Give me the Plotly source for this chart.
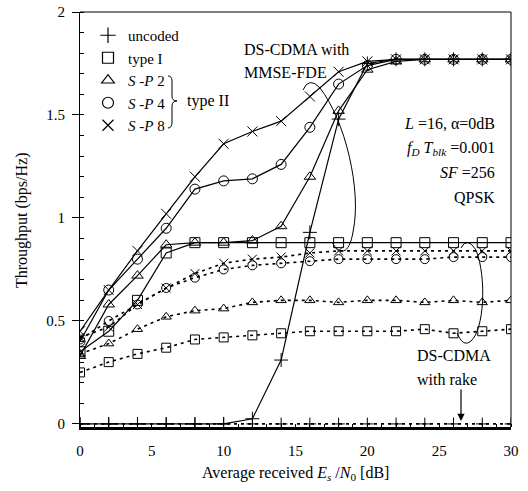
import plotly.graph_objects as go

snr = [0, 2, 4, 6, 8, 10, 12, 14, 16, 18, 20, 22, 24, 26, 28, 30]

uncoded_fde = [0.0, 0.0, 0.0, 0.0, 0.0, 0.0, 0.025, 0.31, 0.93, 1.48, 1.75, 1.77, 1.77, 1.77, 1.77, 1.77]
uncoded_rake = [0.0, 0.0, 0.0, 0.0, 0.0, 0.0, 0.0, 0.0, 0.0, 0.0, 0.0, 0.0, 0.0, 0.0, 0.0, 0.0]

type1_fde = [0.35, 0.45, 0.60, 0.83, 0.88, 0.88, 0.88, 0.88, 0.88, 0.88, 0.88, 0.88, 0.88, 0.88, 0.88, 0.88]
type1_rake = [0.25, 0.30, 0.34, 0.37, 0.41, 0.42, 0.43, 0.44, 0.45, 0.45, 0.45, 0.45, 0.46, 0.44, 0.45, 0.46]

sp2_fde = [0.33, 0.58, 0.72, 0.87, 0.88, 0.88, 0.89, 0.96, 1.20, 1.52, 1.72, 1.76, 1.77, 1.77, 1.77, 1.77]
sp2_rake = [0.34, 0.39, 0.46, 0.52, 0.55, 0.56, 0.59, 0.60, 0.60, 0.59, 0.60, 0.60, 0.59, 0.60, 0.59, 0.60]

sp4_fde = [0.40, 0.65, 0.80, 0.95, 1.14, 1.18, 1.19, 1.26, 1.44, 1.65, 1.74, 1.77, 1.77, 1.77, 1.77, 1.77]
sp4_rake = [0.41, 0.50, 0.58, 0.66, 0.71, 0.75, 0.77, 0.78, 0.79, 0.80, 0.80, 0.80, 0.80, 0.81, 0.81, 0.81]

sp8_fde = [0.45, 0.65, 0.84, 1.02, 1.20, 1.36, 1.42, 1.47, 1.59, 1.71, 1.76, 1.77, 1.77, 1.77, 1.77, 1.77]
sp8_rake = [0.42, 0.47, 0.58, 0.66, 0.73, 0.78, 0.80, 0.81, 0.83, 0.84, 0.84, 0.84, 0.84, 0.84, 0.84, 0.84]

legend_names = ["uncoded", "type I", "<i>S</i> -<i>P</i> 2", "<i>S</i> -<i>P</i> 4", "<i>S</i> -<i>P</i> 8"]
symbols = ["cross-thin-open", "square-open", "triangle-up-open", "circle-open", "x-thin-open"]
fde_series = [uncoded_fde, type1_fde, sp2_fde, sp4_fde, sp8_fde]
rake_series = [uncoded_rake, type1_rake, sp2_rake, sp4_rake, sp8_rake]

FONT = "Liberation Serif"
W, H = 528, 491
L, R, T, B = 80, 17, 12, 64
X0, X1 = 0, 30
Y0, Y1 = -0.015, 2.0
PW, PH = W - L - R, H - T - B


def px2x(px):
    return X0 + (px - L) / PW * (X1 - X0)


def py2y(py):
    return Y1 - (py - T) / PH * (Y1 - Y0)


def px2p(px):
    return (px - L) / PW


def py2p(py):
    return 1 - (py - T) / PH


fig = go.Figure()

for ys, sym in zip(rake_series, symbols):
    fig.add_trace(go.Scatter(
        x=snr, y=ys, mode="lines+markers", showlegend=False,
        line=dict(color="black", width=1.6, dash="3px,4px"),
        marker=dict(symbol=sym, size=9, color="black", line=dict(width=1, color="black")),
    ))

for ys, sym in zip(fde_series, symbols):
    fig.add_trace(go.Scatter(
        x=snr, y=ys, mode="lines+markers", showlegend=False,
        line=dict(color="black", width=1.2),
        marker=dict(symbol=sym, size=10, color="black", line=dict(width=1, color="black")),
    ))

for name, sym in zip(legend_names, symbols):
    fig.add_trace(go.Scatter(
        x=[None], y=[None], mode="markers", name=name,
        marker=dict(symbol=sym, size=11, color="black", line=dict(width=1.2, color="black")),
    ))


def P(px, py):
    return f"{px2x(px):.4f},{py2y(py):.4f}"


shapes = [
    dict(type="line", xref="paper", yref="paper", x0=0, x1=1, y0=1, y1=1, line=dict(color="black", width=1)),
    dict(type="line", xref="paper", yref="paper", x0=1, x1=1, y0=0, y1=1, line=dict(color="black", width=1)),
    dict(type="path", xref="x", yref="y", line=dict(color="black", width=1),
         path=f"M {P(303, 90)} Q {P(309, 76)} {P(320, 88)} C {P(345, 120)} {P(362, 190)} {P(353, 232)} "
              f"C {P(349, 256)} {P(339, 255)} {P(332, 242)}"),
    dict(type="path", xref="x", yref="y", line=dict(color="black", width=1),
         path=f"M {P(461, 248)} Q {P(467, 236)} {P(476, 250)} C {P(487, 278)} {P(484, 330)} {P(471, 341)} "
              f"C {P(465, 346)} {P(461, 342)} {P(457, 333)}"),
    dict(type="path", xref="x", yref="y", line=dict(color="black", width=1),
         path=f"M {P(168, 76)} Q {P(172, 76)} {P(172, 81)} L {P(172, 96)} Q {P(172, 101)} {P(177, 101)} "
              f"Q {P(172, 101)} {P(172, 106)} L {P(172, 122)} Q {P(172, 128)} {P(168, 128)}"),
]

tf = dict(family=FONT, size=16, color="black")
annotations = [
    dict(x=px2x(242), y=py2y(49), text="DS-CDMA with", showarrow=False, xanchor="left", yanchor="middle", font=tf),
    dict(x=px2x(242), y=py2y(72), text="MMSE-FDE", showarrow=False, xanchor="left", yanchor="middle", font=tf),
    dict(x=px2x(185), y=py2y(101), text="type II", showarrow=False, xanchor="left", yanchor="middle", font=tf),
    dict(x=px2x(497), y=py2y(123), text="<i>L</i> =16, α=0dB", showarrow=False, xanchor="right", yanchor="middle", font=tf),
    dict(x=px2x(497), y=py2y(148), text="<i>f<sub>D</sub> T<sub>blk</sub></i> =0.001", showarrow=False, xanchor="right", yanchor="middle", font=tf),
    dict(x=px2x(497), y=py2y(172), text="<i>SF</i> =256", showarrow=False, xanchor="right", yanchor="middle", font=tf),
    dict(x=px2x(497), y=py2y(197), text="QPSK", showarrow=False, xanchor="right", yanchor="middle", font=tf),
    dict(x=px2x(454), y=py2y(355), text="DS-CDMA", showarrow=False, xanchor="center", yanchor="middle", font=tf),
    dict(x=px2x(447), y=py2y(379), text="with rake", showarrow=False, xanchor="center", yanchor="middle", font=tf),
    dict(x=px2x(461), y=py2y(421), ax=0, ay=-33, text="", showarrow=True, arrowhead=2, arrowsize=1.2,
         arrowwidth=1.2, arrowcolor="black"),
    dict(xref="paper", yref="paper", x=px2p(295), y=py2p(473),
         text="Average received <i>E<sub>s</sub></i> /<i>N</i><sub>0</sub> [dB]",
         showarrow=False, xanchor="center", yanchor="middle", font=tf),
    dict(xref="paper", yref="paper", x=px2p(22), y=py2p(220), text="Throughput (bps/Hz)",
         textangle=-90, showarrow=False, xanchor="center", yanchor="middle", font=tf),
]

fig.update_layout(
    template="none",
    width=W, height=H,
    margin=dict(l=L, r=R, t=T, b=B, autoexpand=False),
    paper_bgcolor="white", plot_bgcolor="white",
    font=dict(family=FONT, size=16, color="black"),
    shapes=shapes, annotations=annotations,
    legend=dict(x=px2p(88), y=py2p(19), xanchor="left", yanchor="top", bgcolor="rgba(0,0,0,0)",
                font=dict(family=FONT, size=15), itemwidth=30, tracegroupgap=0, borderwidth=0),
    xaxis=dict(range=[X0, X1], tickvals=[0, 5, 10, 15, 20, 25, 30], showgrid=False, zeroline=False,
               automargin=False, showline=True, linecolor="black", linewidth=2.5, ticks="",
               ticklabelstandoff=8, tickfont=dict(family=FONT, size=15),
               minor=dict(ticks="inside", dtick=1, ticklen=3, tickcolor="black", showgrid=False)),
    yaxis=dict(range=[Y0, Y1], tickvals=[0, 0.5, 1, 1.5, 2], ticktext=["0", "0.5", "1", "1.5", "2"],
               showgrid=False, zeroline=False, showline=True, linecolor="black", linewidth=1,
               automargin=False, ticks="outside", ticklen=7, tickcolor="black",
               ticklabelstandoff=4, tickfont=dict(family=FONT, size=15),
               minor=dict(ticks="inside", dtick=0.1, ticklen=4, tickcolor="black", showgrid=False)),
)

fig.write_html("out.html")
